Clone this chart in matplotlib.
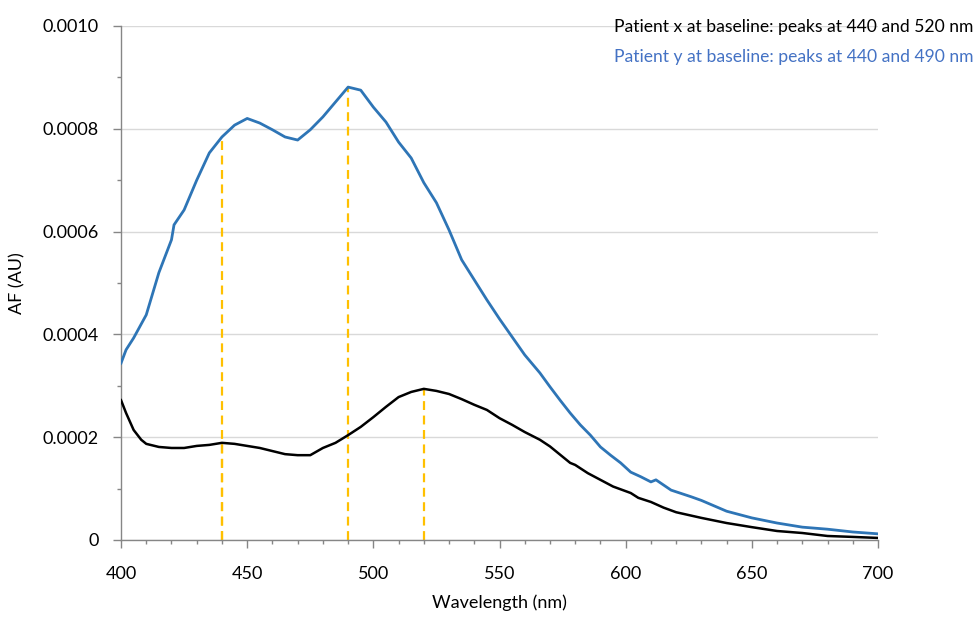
import matplotlib.pyplot as plt
import numpy as np

plt.rcParams['font.family'] = ['Lato', 'DejaVu Sans']

# patient x (black)
wl_x = [400, 402, 405, 408, 410, 415, 420, 425, 430, 435, 440, 445, 450, 455, 460,
        465, 470, 475, 480, 485, 490, 495, 500, 505, 510, 515, 520, 525, 530, 535,
        540, 545, 550, 555, 560, 566, 570, 578, 580, 585, 590, 595, 602, 605, 610,
        615, 620, 630, 640, 650, 660, 670, 680, 690, 700]
af_x = [0.000272, 0.000247, 0.000214, 0.000195, 0.000187, 0.000181, 0.000179, 0.000179,
        0.000183, 0.000185, 0.000189, 0.000187, 0.000183, 0.000179, 0.000173, 0.000167,
        0.000165, 0.000165, 0.000179, 0.000189, 0.000204, 0.000220, 0.000239, 0.000259,
        0.000278, 0.000288, 0.000294, 0.000290, 0.000284, 0.000274, 0.000263, 0.000253,
        0.000237, 0.000224, 0.000210, 0.000195, 0.000182, 0.000150, 0.000146, 0.000130,
        0.000117, 0.000104, 0.0000914, 0.000082, 0.000074, 0.000063, 0.000054, 0.000043,
        0.000033, 0.000025, 0.0000175, 0.0000136, 0.0000078, 0.000006, 0.000004]

# patient y (blue)
wl_y = [400, 402, 405, 410, 415, 420, 421, 425, 430, 435, 440, 445, 450, 455, 460,
        465, 470, 475, 480, 485, 490, 495, 500, 505, 510, 515, 520, 525, 530, 535,
        540, 545, 550, 555, 560, 566, 570, 574, 578, 582, 586, 590, 594, 598, 602,
        606, 610, 612, 618, 626, 630, 640, 650, 660, 670, 680, 690, 700]
af_y = [0.000344, 0.00037, 0.000393, 0.000438, 0.00052, 0.000584, 0.000613, 0.000642,
        0.0007, 0.000753, 0.000784, 0.000807, 0.00082, 0.000811, 0.000798, 0.000784,
        0.000778, 0.000798, 0.000823, 0.000852, 0.000881, 0.000875, 0.000842, 0.000813,
        0.000774, 0.000743, 0.000695, 0.000656, 0.000603, 0.000545, 0.000506, 0.000467,
        0.00043, 0.000395, 0.00036, 0.000325, 0.000298, 0.000272, 0.000247, 0.000224,
        0.000204, 0.000181, 0.000165, 0.00015, 0.000132, 0.000123, 0.000113, 0.000117,
        0.000097, 0.000084, 0.000077, 0.000056, 0.000043, 0.000033, 0.000025, 0.000021,
        0.0000156, 0.000012]

peaks_x = [440, 520]
peaks_y = [440, 490]
label_x = 'Patient x at baseline: peaks at 440 and 520 nm'
label_y = 'Patient y at baseline: peaks at 440 and 490 nm'

fig = plt.figure(figsize=(9.76, 6.17), dpi=100)
ax = fig.add_axes([0.124, 0.1248, 0.7756, 0.8332])

ax.plot(wl_y, af_y, color='#2E75B6', lw=2.0, zorder=3)
ax.plot(wl_x, af_x, color='black', lw=1.8, zorder=3)

for p in peaks_x:
    ax.vlines(p, 0, np.interp(p, wl_x, af_x), colors='#FFC000', linestyles=(0, (4, 2.5)), lw=1.6, zorder=2)
for p in peaks_y:
    ax.vlines(p, 0, np.interp(p, wl_y, af_y), colors='#FFC000', linestyles=(0, (4, 2.5)), lw=1.6, zorder=2)

ax.set_xlim(400, 700)
ax.set_ylim(0, 0.001)
ax.set_xticks(np.arange(400, 701, 50))
ax.set_xticks(np.arange(400, 701, 10), minor=True)
yt = np.arange(0, 0.00101, 0.0002)
ax.set_yticks(yt)
ax.set_yticklabels(['0'] + ['%.4f' % v for v in yt[1:]])
ax.set_yticks(np.arange(0, 0.00101, 0.0001), minor=True)

ax.grid(axis='y', which='major', color='#D9D9D9', lw=1.0, zorder=0)
for s in ['top', 'right']:
    ax.spines[s].set_visible(False)
for s in ['left', 'bottom']:
    ax.spines[s].set_color('#868686')
    ax.spines[s].set_linewidth(1.0)

ax.tick_params(which='major', length=6, width=1.0, color='#868686', labelsize=13, pad=10)
ax.tick_params(which='minor', length=3, width=1.0, color='#868686')
ax.tick_params(axis='x', which='major', pad=13)

ax.set_xlabel('Wavelength (nm)', fontsize=13, labelpad=9)
ax.set_ylabel('AF (AU)', fontsize=13, labelpad=12)

fig.text(0.997, 0.956, label_x, color='black', fontsize=12.6, va='center', ha='right')
fig.text(0.997, 0.907, label_y, color='#4472C4', fontsize=12.6, va='center', ha='right')

fig.savefig('out.png', dpi=100)
